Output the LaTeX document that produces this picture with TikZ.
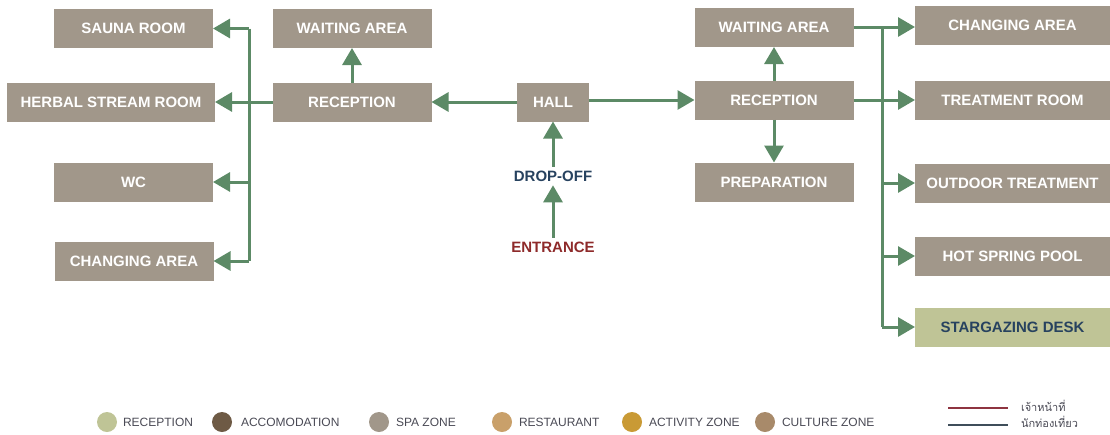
\documentclass[tikz,border=0pt]{standalone}
\usepackage{fontspec}
\setmainfont{Liberation Sans}
\newfontfamily\thaifont[Script=Thai]{Loma}
\usetikzlibrary{arrows.meta}
\definecolor{spagray}{HTML}{A1978A}
\definecolor{recolive}{HTML}{BFC496}
\definecolor{accobrown}{HTML}{6E5A45}
\definecolor{restotan}{HTML}{C9A06A}
\definecolor{actgold}{HTML}{C99A35}
\definecolor{cultbrown}{HTML}{A88A6A}
\definecolor{flowgreen}{HTML}{5C8A66}
\definecolor{navy}{HTML}{27425F}
\definecolor{darkred}{HTML}{8E2A2A}
\definecolor{keygray}{HTML}{4A4A55}
\definecolor{staffred}{HTML}{8E3440}
\definecolor{touristgray}{HTML}{3F4E5A}
\begin{document}
\begin{tikzpicture}[x=1pt,y=-1pt,inner sep=0pt,outer sep=0pt,
room/.style={fill=spagray,minimum width=159pt,minimum height=39pt,text=white,font=\fontsize{15}{15}\selectfont\bfseries},
wideroom/.style={room,minimum width=195pt},
label/.style={outer sep=4pt,font=\fontsize{15}{15}\selectfont\bfseries},
flow/.style={draw=flowgreen,line width=3pt,-{Triangle[length=17pt,width=19pt]}},
link/.style={draw=flowgreen,line width=3pt},
dot/.style={circle,minimum size=20pt},
key/.style={anchor=west,text=keygray,font=\fontsize{12}{12}\selectfont},
thaikey/.style={key,font=\thaifont\fontsize{11}{11}\selectfont},
keyline/.style={line width=2.5pt}]
\useasboundingbox (0,0) rectangle (1110,434);
\draw (133.5,28.5) node[room] (sauna) {SAUNA ROOM};
\draw (111,102) node[room,minimum width=208pt] (herbal) {HERBAL STREAM ROOM};
\draw (133.5,182) node[room] (wc) {WC};
\draw (134,261) node[room] (changeL) {CHANGING AREA};
\draw (352,28.5) node[room] (waitL) {WAITING AREA};
\draw (352,102) node[room] (recL) {RECEPTION};
\draw (553,102) node[room,minimum width=72pt] (hall) {HALL};
\draw (774,27.5) node[room] (waitR) {WAITING AREA};
\draw (774,100) node[room] (recR) {RECEPTION};
\draw (774,182) node[room] (prep) {PREPARATION};
\draw (1012.5,25.5) node[wideroom] (changeR) {CHANGING AREA};
\draw (1012.5,100) node[wideroom] (treat) {TREATMENT ROOM};
\draw (1012.5,183) node[wideroom] (outdoor) {OUTDOOR TREATMENT};
\draw (1012.5,256) node[wideroom] (hotspring) {HOT SPRING POOL};
\draw (1012.5,327) node[wideroom,fill=recolive,text=navy] (star) {STARGAZING DESK};
\draw (553,176) node[label,text=navy] (drop) {DROP-OFF};
\draw (553,247) node[label,text=darkred] (entrance) {ENTRANCE};
\coordinate (busLtop) at (249,28.5);
\coordinate (busLbot) at (249,261);
\draw[link] (busLtop) -- (busLbot);
\draw[flow] (busLtop) -- (sauna);
\draw[flow] (recL) -- (herbal);
\draw[flow] (busLbot |- wc) -- (wc);
\draw[flow] (busLbot) -- (changeL);
\draw[flow] (recL) -- (waitL);
\draw[flow] (hall) -- (recL);
\draw[flow] (hall.east |- recR) -- (recR);
\draw[flow] (entrance) -- (drop);
\draw[flow] (drop) -- (hall);
\draw[flow] (recR) -- (waitR);
\draw[flow] (recR) -- (prep);
\coordinate (busRtop) at (882,27);
\coordinate (busRbot) at (882,327);
\draw[link] (busRtop) -- (busRbot);
\draw[link] (waitR.east |- busRtop) -- (busRtop);
\draw[flow] (busRtop) -- (changeR.west |- busRtop);
\draw[flow] (recR) -- (treat);
\draw[flow] (busRbot |- outdoor) -- (outdoor);
\draw[flow] (busRbot |- hotspring) -- (hotspring);
\draw[flow] (busRbot) -- (star);
\draw (107,422) node[dot,fill=recolive] (keyrec) {};
\draw (123,422) node[key] (keyrectext) {RECEPTION};
\draw (222,422) node[dot,fill=accobrown] (keyacco) {};
\draw (241,422) node[key] (keyaccotext) {ACCOMODATION};
\draw (379,422) node[dot,fill=spagray] (keyspa) {};
\draw (396,422) node[key] (keyspatext) {SPA ZONE};
\draw (502,422) node[dot,fill=restotan] (keyresto) {};
\draw (519,422) node[key] (keyrestotext) {RESTAURANT};
\draw (632,422) node[dot,fill=actgold] (keyact) {};
\draw (649,422) node[key] (keyacttext) {ACTIVITY ZONE};
\draw (765,422) node[dot,fill=cultbrown] (keycult) {};
\draw (782,422) node[key] (keyculttext) {CULTURE ZONE};
\coordinate (staffA) at (948,408);
\coordinate (staffB) at (1008,408);
\coordinate (touristA) at (948,425);
\coordinate (touristB) at (1008,425);
\draw[keyline,staffred] (staffA) -- (staffB);
\draw[keyline,touristgray] (touristA) -- (touristB);
\draw (1021,406) node[thaikey] (staff) {เจ้าหน้าที่};
\draw (1021,422) node[thaikey] (tourist) {นักท่องเที่ยว};
\end{tikzpicture}
\end{document}
